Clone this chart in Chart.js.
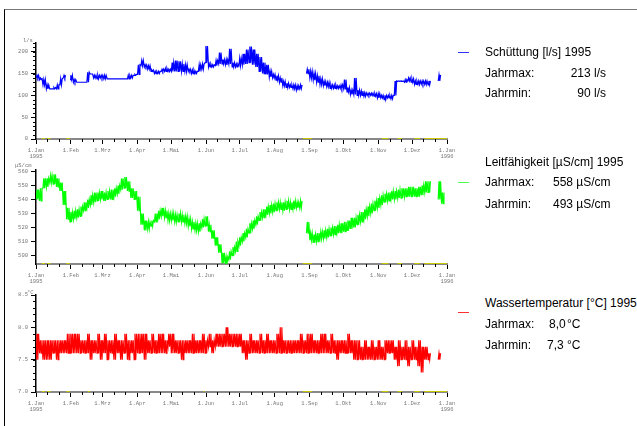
<!DOCTYPE html>
<html>
<head>
<meta charset="utf-8">
<script src="https://cdn.jsdelivr.net/npm/chart.js@4.4.1/dist/chart.umd.min.js"></script>
<style>
  body { margin: 0; background: #fff; width: 637px; height: 426px; overflow: hidden; position: relative;
         font-family: "Liberation Sans", Arial, sans-serif; }
  #frame { position: absolute; left: 4px; top: 9px; width: 640px; height: 430px;
           border-left: 1px solid #000; border-top: 1px solid #777; }
  canvas.c { position: absolute; left: 0; }
  .unit { position: absolute; font: 5.5px "Liberation Mono", monospace; color: #777; line-height: 6px; }
  .leg { position: absolute; font-size: 12px; line-height: 14px; color: #000; white-space: nowrap; }
  .mark { position: absolute; left: 458px; width: 11px; height: 1px; }
</style>
</head>
<body>
<div id="frame"></div>

<canvas class="c" id="chart-flow" width="470" height="135" style="top:30px"></canvas>
<canvas class="c" id="chart-cond" width="470" height="135" style="top:155px"></canvas>
<canvas class="c" id="chart-temp" width="470" height="138" style="top:280px"></canvas>

<div class="unit" style="left:23px;top:38px">l/s</div>
<div class="unit" style="left:15px;top:163px">µS/cm</div>
<div class="unit" style="left:27px;top:290px">°C</div>

<div class="mark" style="top:52px;background:#3030ff"></div>
<div class="leg" style="left:485px;top:45px">Schüttung [l/s] 1995</div>
<div class="leg" style="left:485px;top:66px">Jahrmax:</div>
<div class="leg" style="right:31px;top:66px">213 l/s</div>
<div class="leg" style="left:485px;top:86px">Jahrmin:</div>
<div class="leg" style="right:31px;top:86px">90 l/s</div>

<div class="leg" style="left:485px;top:155px">Leitfähigkeit [µS/cm] 1995</div>
<div class="mark" style="top:182px;background:#50ff50"></div>
<div class="leg" style="left:485px;top:175px">Jahrmax:</div>
<div class="leg" style="left:553px;top:175px">558 µS/cm</div>
<div class="leg" style="left:485px;top:197px">Jahrmin:</div>
<div class="leg" style="left:553px;top:197px">493 µS/cm</div>

<div class="leg" style="left:485px;top:296px">Wassertemperatur [°C] 1995</div>
<div class="mark" style="top:312px;background:#ff3030"></div>
<div class="leg" style="left:485px;top:317px">Jahrmax:</div>
<div class="leg" style="left:549px;top:317px">8,0</div>
<div class="leg" style="left:567px;top:317px">°C</div>
<div class="leg" style="left:485px;top:338px">Jahrmin:</div>
<div class="leg" style="left:547px;top:338px">7,3</div>
<div class="leg" style="left:567px;top:338px">°C</div>

<script>
// 3-day bins through 1995, each bin = lowest / highest reading in it (null = no data)
const BIN = 3;
const monthDays = [0, 31, 59, 90, 120, 151, 181, 212, 243, 273, 304, 334, 365];
const monthLabels = ["1.Jan", "1.Feb", "1.Mrz", "1.Apr", "1.Mai", "1.Jun", "1.Jul",
                     "1.Aug", "1.Sep", "1.Okt", "1.Nov", "1.Dez", "1.Jan"];
const yearLabels = ["1995", "1996"];

// Schüttung [l/s]
const flowLo = [
  140,136,124,115,115,115,115,124,140,null,
  136,130,130,130,130,130,149,140,138,140,
  138,138,138,138,138,138,138,138,140,146,
  148,168,165,160,155,150,150,155,155,155,
  155,155,155,155,155,155,150,150,155,160,
  175,165,165,168,172,172,170,172,165,165,
  168,170,172,175,170,165,155,150,148,142,
  140,135,130,122,118,118,115,112,115,null,
  150,140,135,130,125,122,120,116,116,116,
  116,115,108,102,102,100,100,98,100,100,
  98,94,94,90,94,92,100,132,132,130,
  133,130,125,125,126,125,124,null,null,133,
  null,null];
const flowHi = [
  146,140,136,124,115,118,124,138,146,null,
  146,136,130,130,130,153,149,146,146,146,
  146,138,138,138,138,138,138,146,146,148,
  170,180,170,168,158,155,155,160,162,160,
  175,180,178,172,170,160,158,155,170,172,
  213,172,170,180,198,182,182,207,175,172,
  185,195,205,212,205,195,188,175,170,155,
  148,145,140,132,128,124,124,122,124,null,
  160,155,150,145,138,132,130,124,124,122,
  124,136,118,112,140,112,110,106,105,105,
  104,104,100,100,100,100,133,133,133,136,
  140,138,133,133,133,133,133,null,null,147,
  null,null];

// Leitfähigkeit [µS/cm]
const condLo = [
  540,539,548,549,552,551,549,546,536,526,
  524,526,527,528,532,534,536,538,539,540,
  539,540,540,542,544,547,548,546,541,540,
  532,522,518,519,521,524,526,528,527,525,
  525,524,524,524,523,521,519,518,517,520,
  521,517,512,507,502,495,494,497,500,503,
  507,510,513,516,519,522,525,527,529,530,
  531,532,533,532,533,533,533,534,534,null,
  516,511,509,510,512,512,513,514,515,516,
  516,517,518,519,520,522,524,526,528,530,
  532,534,536,538,539,540,540,541,541,542,
  542,542,542,542,543,545,545,null,null,540,
  537,null];
const condHi = [
  547,548,555,555,557,558,555,552,546,534,
  531,532,533,535,538,540,543,545,545,546,
  545,546,547,548,550,555,556,553,548,546,
  542,530,525,524,525,530,532,534,532,530,
  530,529,530,529,528,526,524,523,523,526,
  528,522,518,513,508,502,499,503,506,510,
  513,516,519,523,525,528,531,533,535,536,
  537,538,538,538,539,538,539,538,539,null,
  524,516,515,516,517,518,519,520,521,522,
  523,524,525,527,527,529,531,533,535,537,
  539,541,543,544,545,546,546,547,548,548,
  549,549,548,549,550,553,553,null,null,553,
  545,null];

// Wassertemperatur [°C]
const tempLo = [
  7.5,7.6,7.5,7.5,7.5,7.6,7.5,7.6,7.6,7.6,
  7.6,7.6,7.6,7.6,7.6,7.6,7.5,7.6,7.6,7.5,
  7.6,7.5,7.6,7.5,7.6,7.5,7.6,7.5,7.6,7.5,
  7.6,7.6,7.5,7.6,7.6,7.6,7.6,7.6,7.6,7.7,
  7.6,7.6,7.6,7.5,7.6,7.6,7.6,7.6,7.6,7.6,
  7.6,7.7,7.6,7.7,7.7,7.7,7.7,7.7,7.7,7.7,
  7.7,7.6,7.5,7.6,7.6,7.6,7.6,7.6,7.6,7.6,
  7.6,7.6,7.6,7.6,7.6,7.6,7.6,7.6,7.6,7.6,
  7.6,7.6,7.6,7.6,7.6,7.6,7.6,7.6,7.6,7.5,
  7.6,7.6,7.6,7.6,7.5,7.5,7.5,7.5,7.5,7.5,
  7.5,7.5,7.5,7.5,7.6,7.6,7.5,7.4,7.5,7.5,
  7.4,7.5,7.5,7.4,7.3,7.5,7.5,null,null,7.5,
  null,null];
const tempHi = [
  7.9,7.8,7.8,7.8,7.8,7.8,7.8,7.8,7.8,7.9,
  7.9,7.9,7.9,7.8,7.8,7.9,7.8,7.8,7.9,7.8,
  7.9,7.8,7.8,7.9,7.8,7.8,7.9,7.8,7.8,7.9,
  7.9,7.9,7.9,7.8,7.9,7.8,7.9,7.9,7.8,7.9,
  7.9,7.8,7.8,7.8,7.8,7.8,7.9,7.8,7.8,7.9,
  7.8,7.9,7.8,7.9,7.9,7.9,8.0,7.9,7.9,7.9,
  7.9,7.8,7.8,7.9,7.8,7.8,7.9,7.8,7.9,7.8,
  7.8,7.9,8.0,7.8,7.8,7.8,7.8,7.8,7.9,7.8,
  7.9,7.9,7.8,7.8,7.9,7.9,7.8,7.9,7.8,7.8,
  7.8,7.8,7.9,7.8,7.8,7.8,7.7,7.8,7.7,7.8,
  7.7,7.8,7.7,7.8,7.8,7.8,7.7,7.8,7.7,7.8,
  7.7,7.8,7.7,7.8,7.7,7.7,7.6,null,null,7.6,
  null,null];

// days flagged yellow on the time axis (missing / corrected data)
const gapsFlow = [[5, 8], [10, 13], [27, 30], [237, 245], [307, 313], [321, 325], [336, 341], [345, 365]];
const gapsTemp = [[5, 8], [10, 13], [27, 30], [46, 48], [149, 150], [237, 245], [307, 313], [321, 325], [336, 341], [345, 365]];

const flowTicks = [0, 50, 100, 150, 200];
const condTicks = [500, 510, 520, 530, 540, 550, 560];
const tempTicks = [7.0, 7.5, 8.0, 8.5];
const tempTickLabels = ["7.0", "7.5", "8.0", "8.5"];

const tickFont = { family: "'Liberation Mono', monospace", size: 5.5 };
const tickColor = "#777";

// each bin is drawn as a fast back-and-forth between its low and high reading
function toPoints(lo, hi) {
  const pts = [];
  lo.forEach((v, i) => {
    const d = i * BIN;
    if (v === null) { pts.push({ x: d + 1, y: null }); return; }
    pts.push({ x: d + 0.2, y: v }, { x: d + 0.9, y: hi[i] }, { x: d + 1.6, y: v }, { x: d + 2.3, y: hi[i] });
  });
  return pts;
}

function gapPoints(gaps, yv) {
  const pts = [];
  for (const [a, b] of gaps) pts.push({ x: a, y: yv }, { x: b, y: yv }, { x: b, y: null });
  return pts;
}

// small ticks: dekads on the time axis, optional minor step on the value axis
const minorTicks = {
  id: "minorTicks",
  afterDatasetsDraw(chart) {
    const { ctx, chartArea: a, scales: { x, y } } = chart;
    const step = chart.options.plugins.minorTicks.yStep;
    ctx.save();
    ctx.strokeStyle = "#000";
    ctx.lineWidth = 1;
    ctx.beginPath();
    for (const d of monthDays.slice(0, -1)) {
      for (const off of [10, 20]) {
        const px = Math.round(x.getPixelForValue(d + off)) + 0.5;
        ctx.moveTo(px, a.bottom);
        ctx.lineTo(px, a.bottom + 3);
      }
    }
    if (step) {
      for (let v = Math.ceil(y.min / step) * step; v <= y.max + 1e-9; v += step) {
        const py = Math.round(y.getPixelForValue(v)) + 0.5;
        ctx.moveTo(a.left - 3, py);
        ctx.lineTo(a.left, py);
      }
    }
    ctx.stroke();
    ctx.restore();
  }
};

function buildChart(canvasId, lo, hi, color, yMin, yMax, yTicks, yLabel, yStep, gaps, padTop) {
  const ctx = document.getElementById(canvasId);
  return new Chart(ctx, {
    type: "line",
    data: {
      datasets: [
        { data: toPoints(lo, hi), borderColor: color, borderWidth: 1.2, pointRadius: 0, spanGaps: false },
        { data: gapPoints(gaps, yMin), borderColor: "#c8c800", borderWidth: 2, pointRadius: 0, spanGaps: false }
      ]
    },
    options: {
      responsive: false,
      animation: false,
      layout: { padding: { top: padTop, right: 23, left: 0, bottom: 0 } },
      plugins: { legend: { display: false }, tooltip: { enabled: false }, minorTicks: { yStep } },
      scales: {
        x: {
          type: "linear", min: 0, max: 365,
          afterBuildTicks: (s) => { s.ticks = monthDays.map((value) => ({ value })); },
          afterFit: (s) => { s.height = 26; },
          ticks: {
            autoSkip: false, maxRotation: 0, padding: 3, font: tickFont, color: tickColor,
            callback: (v, i) => i === 0 ? [monthLabels[i], yearLabels[0]]
              : i === monthLabels.length - 1 ? [monthLabels[i], yearLabels[1]] : monthLabels[i]
          },
          grid: { drawOnChartArea: false, tickLength: 5, tickColor: "#000" },
          border: { color: "#888", width: 2 }
        },
        y: {
          min: yMin, max: yMax,
          afterBuildTicks: (s) => { s.ticks = yTicks.map((value) => ({ value })); },
          afterFit: (s) => { s.width = 36; },
          ticks: { padding: 3, font: tickFont, color: tickColor, callback: (v, i) => yLabel(v, i) },
          grid: { drawOnChartArea: false, tickLength: 5, tickColor: "#000" },
          border: { color: "#000", width: 1.5 }
        }
      }
    },
    plugins: [minorTicks]
  });
}

buildChart("chart-flow", flowLo, flowHi, "#0000ff", 0, 220, flowTicks, (v) => String(v), 10, gapsFlow, 13);
buildChart("chart-cond", condLo, condHi, "#00ff00", 494, 561, condTicks, (v) => String(v), null, gapsFlow, 15);
buildChart("chart-temp", tempLo, tempHi, "#ff0000", 7.0, 8.5, tempTicks, (v, i) => tempTickLabels[i], 0.1, gapsTemp, 15);
</script>
</body>
</html>
